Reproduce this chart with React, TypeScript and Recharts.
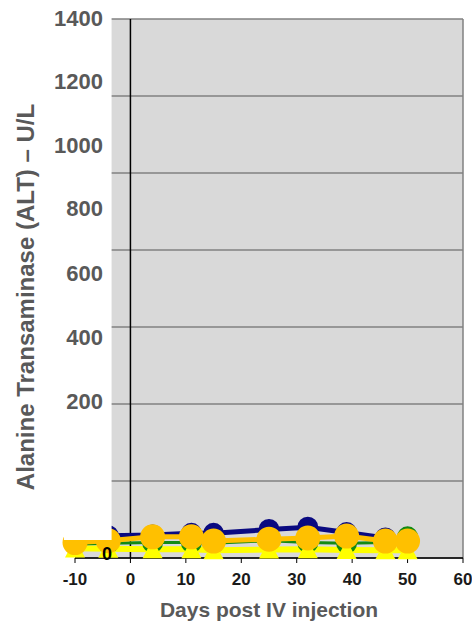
import React from 'react';
import { LineChart, Line, XAxis, YAxis, CartesianGrid, ReferenceLine, ReferenceArea } from 'recharts';

// days post injection and ALT (U/L) per group
const days = [-10, -4, 4, 11, 15, 25, 32, 39, 46, 50];
const navyGroup = [55, 58, 60, 64, 64, 74, 80, 66, 52, 45];
const greenGroup = [35, 38, 40, 40, 38, 45, 40, 38, 40, 55];
const yellowGroup = [25, 24, 23, 23, 20, 22, 23, 21, 20, 20];
const orangeGroup = [40, 45, 55, 55, 44, 49, 52, 57, 44, 44];

const xTicks = [-10, 0, 10, 20, 30, 40, 50, 60];
const yTicks = [0, 200, 400, 600, 800, 1000, 1200, 1400];

const rows = days.map((d, i) => ({
  day: d,
  navy: navyGroup[i],
  green: greenGroup[i],
  yellow: yellowGroup[i],
  orange: orangeGroup[i],
}));

// the tick labels in the figure sit off the gridlines
const labelNudge: Record<number, number> = {
  1400: -1, 1200: -15, 1000: -28, 800: -42, 600: -54, 400: -67, 200: -80, 0: -4,
};

const YTick = (props: any) => {
  const { x, y, payload } = props;
  const v = payload.value;
  const isZero = v === 0;
  return (
    <text
      x={x + (isZero ? 37 : 28)}
      y={y + labelNudge[v]}
      textAnchor="end"
      dominantBaseline="central"
      fontFamily="Liberation Sans, Arial, sans-serif"
      fontWeight="bold"
      fontSize={isZero ? 18 : 22}
      fill={isZero ? '#000' : '#595959'}
    >
      {v}
    </text>
  );
};

const Triangle = (props: any) => {
  const { cx, cy, index } = props;
  if (cx == null || cy == null) return null;
  return (
    <polygon
      key={index}
      points={`${cx},${cy - 10} ${cx - 10},${cy + 9} ${cx + 10},${cy + 9}`}
      fill="#ffff00"
    />
  );
};

const YTitle = () => (
  <text
    x={25}
    y={297}
    transform="rotate(-90 25 297)"
    textAnchor="middle"
    dominantBaseline="central"
    fontFamily="Liberation Sans, Arial, sans-serif"
    fontWeight="bold"
    fontSize={24}
    fill="#595959"
  >
    Alanine Transaminase (ALT) – U/L
  </text>
);

export default function App() {
  return (
    <div style={{ position: 'absolute', left: 0, top: 0, width: 472, height: 623, background: '#fff' }}>
      <LineChart width={472} height={623} data={rows} margin={{ top: 19, right: 9, bottom: 0, left: 0 }}>
        <CartesianGrid vertical={false} fill="#d9d9d9" fillOpacity={1} stroke="#808080" strokeWidth={1.5} />
        <XAxis
          dataKey="day"
          type="number"
          domain={[-10, 60]}
          ticks={xTicks}
          height={65}
          axisLine={{ stroke: '#000', strokeWidth: 1.5 }}
          tickLine={{ stroke: '#000' }}
          tickSize={5}
          tickMargin={10}
          tick={{ fontFamily: 'Liberation Sans, Arial, sans-serif', fontWeight: 'bold', fontSize: 17, fill: '#1a1a1a' }}
          label={{
            value: 'Days post IV injection',
            position: 'insideBottom',
            offset: 6,
            fontFamily: 'Liberation Sans, Arial, sans-serif',
            fontWeight: 'bold',
            fontSize: 21,
            fill: '#595959',
          }}
        />
        <YAxis
          type="number"
          domain={[0, 1400]}
          ticks={yTicks}
          width={75}
          axisLine={false}
          tickLine={false}
          tickSize={0}
          tickMargin={0}
          tick={<YTick />}
          label={{ content: () => <YTitle /> }}
          zIndex={1400}
        />
        <ReferenceLine x={0} stroke="#000" strokeWidth={1.5} />
        <ReferenceLine x={60} stroke="#808080" strokeWidth={1.5} />
        <Line type="linear" dataKey="navy" stroke="#0a0a80" strokeWidth={5} dot={{ r: 8, fill: '#0a0a80', stroke: '#0a0a80' }} isAnimationActive={false} />
        <Line type="linear" dataKey="green" stroke="#138a13" strokeWidth={3} dot={{ r: 9, fill: '#138a13', stroke: '#138a13' }} isAnimationActive={false} />
        <Line type="linear" dataKey="yellow" stroke="#ffff00" strokeWidth={6} dot={<Triangle />} isAnimationActive={false} />
        <Line type="linear" dataKey="orange" stroke="#ffc000" strokeWidth={5} dot={{ r: 10, fill: '#ffc000', stroke: '#ffc000' }} isAnimationActive={false} />
        <ReferenceArea x1={-12} x2={-3.4} y1={47} y2={1420} fill="#ffffff" fillOpacity={1} stroke="none" ifOverflow="visible" zIndex={1300} />
      </LineChart>
    </div>
  );
}
